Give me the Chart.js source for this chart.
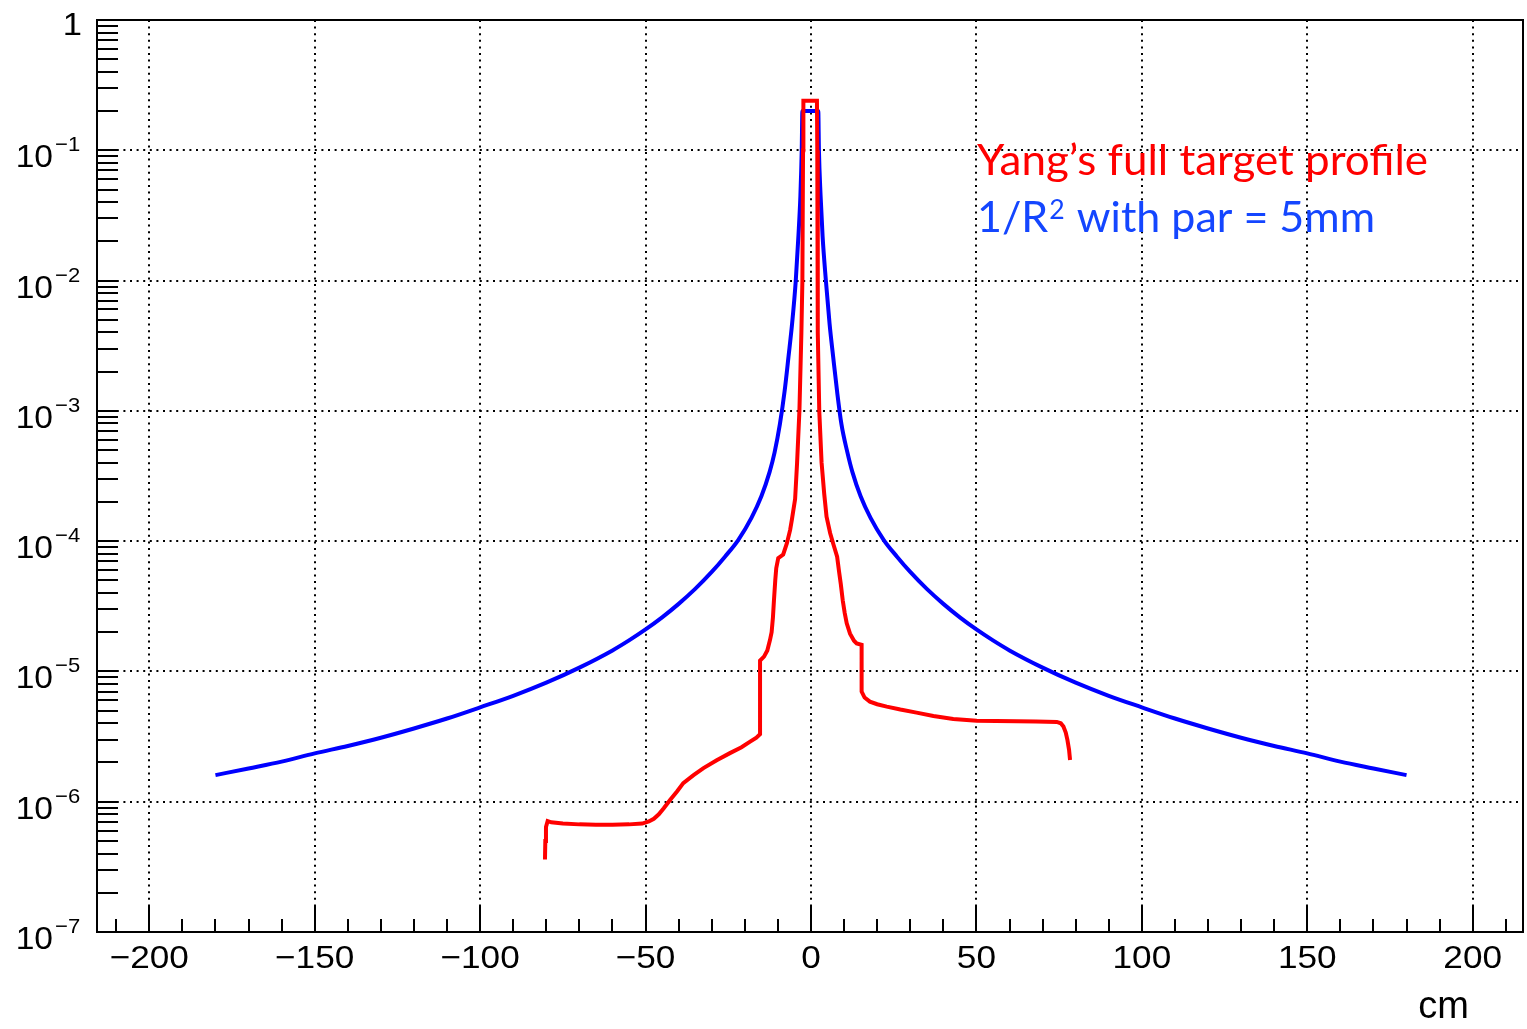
<!DOCTYPE html>
<html lang="en">
<head>
<meta charset="UTF-8">
<title>Target profile vs 1/R2</title>
<style>
  html, body { margin: 0; padding: 0; background: #fff; }
  #chart { display: block; }
</style>
</head>
<body>
<canvas id="chart" width="1527" height="1029"></canvas>
<script src="https://cdn.jsdelivr.net/npm/chart.js@4.4.1/dist/chart.umd.min.js"></script>
<script>
  // 1/R^2 curve
  const BLUE_X = [-180, -170, -160, -150, -140, -130, -120, -110, -100, -90, -80, -70, -60, -55, -50, -45, -40, -35, -30, -26, -22,
    -18, -15, -12.5, -11, -9.4, -8, -6.8, -5.7, -4.6, -3.8, -3.2, -2.8, -2.6,
    2.2, 2.4, 2.9, 3.5, 4.5, 5.6, 6.7, 7.9, 9.2, 11, 12.5, 15, 18, 22, 26, 30, 35, 40, 45, 50, 55,
    60, 70, 80, 90, 100, 110, 120, 130, 140, 150, 160, 170, 180];
  const BLUE_Y = [1.6e-6, 1.8e-6, 2.03e-6, 2.35e-6, 2.68e-6, 3.1e-6, 3.65e-6, 4.35e-6, 5.3e-6, 6.5e-6, 8.2e-6, 1.07e-5, 1.45e-5, 1.73e-5, 2.1e-5, 2.6e-5, 3.3e-5, 4.3e-5, 5.8e-5, 7.6e-5, 1.02e-4,
    1.51e-4, 2.21e-4, 3.4e-4, 4.8e-4, 7.9e-4, 1.4e-3, 2.6e-3, 4.7e-3, 1.0e-2, 2.2e-2, 4.5e-2, 0.1, 0.2,
    0.2, 0.1, 4.5e-2, 2.2e-2, 1.0e-2, 4.7e-3, 2.6e-3, 1.4e-3, 7.9e-4, 4.8e-4, 3.4e-4, 2.21e-4, 1.51e-4, 1.02e-4, 7.6e-5, 5.8e-5, 4.3e-5, 3.3e-5, 2.6e-5, 2.1e-5, 1.73e-5,
    1.45e-5, 1.07e-5, 8.2e-6, 6.5e-6, 5.3e-6, 4.35e-6, 3.65e-6, 3.1e-6, 2.68e-6, 2.35e-6, 2.03e-6, 1.8e-6, 1.6e-6];

  // Yang's full target profile
  const RED_X = [-80.4, -80.3, -80.1, -79.6, -78.5, -75, -70, -65, -60, -55, -51, -49, -47.5, -46, -44.5, -42.6, -40.5, -38.6, -35.5, -32.5,
    -28.5, -24.5, -21, -18.4, -16.5, -15.4, -15.4, -14.2, -13.2, -12.4, -11.9, -11.5, -11.2, -10.8, -10.5, -9.9, -8.4, -7.3, -6.3, -5.8,
    -4.8, -4.2, -3.5, -2.9, -2.6, -2.4, -2.3, 1.8, 1.9, 2.0, 2.1, 2.5, 3.2, 4.0, 4.7, 5.8, 6.7, 7.9, 8.5, 9.0,
    9.6, 10.2, 10.8, 11.8, 13.0, 13.8, 15.3, 15.3, 16.2, 17.8, 20, 22.9, 27, 31.9, 37, 43, 50.1, 56, 62.2, 68,
    74.3, 75.5, 76.3, 77, 77.5, 78, 78.3];
  const RED_Y = [3.6e-7, 5.0e-7, 6.4e-7, 7.1e-7, 6.95e-7, 6.8e-7, 6.7e-7, 6.65e-7, 6.65e-7, 6.7e-7, 6.8e-7, 7.05e-7, 7.4e-7, 8.0e-7, 8.9e-7, 1.03e-6, 1.2e-6, 1.39e-6, 1.6e-6, 1.81e-6,
    2.08e-6, 2.36e-6, 2.62e-6, 2.89e-6, 3.1e-6, 3.3e-6, 1.21e-5, 1.3e-5, 1.45e-5, 1.74e-5, 2.0e-5, 2.6e-5, 3.5e-5, 5.0e-5, 6.2e-5, 7.4e-5, 7.9e-5, 9.6e-5, 1.22e-4, 1.45e-4,
    2.1e-4, 4.0e-4, 1.0e-3, 4.0e-3, 1.0e-2, 0.1, 0.24, 0.24, 0.1, 1.0e-2, 4.0e-3, 1.0e-3, 4.0e-4, 2.3e-4, 1.54e-4, 1.15e-4, 9.6e-5, 7.6e-5, 5.8e-5, 4.7e-5,
    3.5e-5, 2.8e-5, 2.34e-5, 1.95e-5, 1.72e-5, 1.64e-5, 1.6e-5, 7.0e-6, 6.3e-6, 5.86e-6, 5.6e-6, 5.37e-6, 5.1e-6, 4.83e-6, 4.55e-6, 4.32e-6, 4.19e-6, 4.17e-6, 4.15e-6, 4.13e-6,
    4.1e-6, 4.0e-6, 3.77e-6, 3.4e-6, 2.98e-6, 2.5e-6, 2.09e-6];

  const X_MAJOR = [-200, -150, -100, -50, 0, 50, 100, 150, 200];
  const X_LABELS = ['\u2212200', '\u2212150', '\u2212100', '\u221250', '0', '50', '100', '150', '200'];
  const Y_DECADES = [1e-7, 1e-6, 1e-5, 1e-4, 1e-3, 1e-2, 1e-1, 1];
  const Y_EXPONENTS = ['\u22127', '\u22126', '\u22125', '\u22124', '\u22123', '\u22122', '\u22121', ''];

  const TICK_FONT = '"Liberation Sans", Arial, sans-serif';
  const TEXT_FONT = 'Lato, "Open Sans", sans-serif';

  // draws text a bit wider than the font, like the ROOT labels
  function wideText(ctx, txt, x, y, align, stretch) {
    const w = ctx.measureText(txt).width * stretch;
    let x0 = x;
    if (align === 'center') x0 = x - w / 2;
    if (align === 'right') x0 = x - w;
    ctx.save();
    ctx.textAlign = 'left';
    ctx.translate(x0, y);
    ctx.scale(stretch, 1);
    ctx.fillText(txt, 0, 0);
    ctx.restore();
  }

  const rootFrame = {
    id: 'rootFrame',
    afterDraw(chart) {
      const ctx = chart.ctx;
      const a = chart.chartArea;
      const xs = chart.scales.x;
      const ys = chart.scales.y;
      ctx.save();
      ctx.setLineDash([]);
      ctx.strokeStyle = '#000';
      ctx.lineWidth = 2;
      ctx.strokeRect(a.left, a.top, a.right - a.left, a.bottom - a.top);

      // y ticks: decades and 2..9
      ctx.beginPath();
      for (let i = 0; i < Y_DECADES.length - 1; i++) {
        for (let m = 1; m <= 9; m++) {
          const py = Math.round(ys.getPixelForValue(Y_DECADES[i] * m));
          ctx.moveTo(a.left, py);
          ctx.lineTo(a.left + 21, py);
        }
      }
      // x ticks every 10, longer every 50
      for (let v = -210; v <= 210; v += 10) {
        const px = Math.round(xs.getPixelForValue(v));
        const len = v % 50 === 0 ? 27 : 13;
        ctx.moveTo(px, a.bottom);
        ctx.lineTo(px, a.bottom - len);
      }
      ctx.stroke();

      // y labels
      ctx.fillStyle = '#000';
      ctx.textBaseline = 'alphabetic';
      Y_DECADES.forEach((v, i) => {
        const py = ys.getPixelForValue(v);
        const exp = Y_EXPONENTS[i];
        ctx.font = '32px ' + TICK_FONT;
        if (exp === '') {
          wideText(ctx, '1', 82, py + 15, 'right', 1.08);
          return;
        }
        wideText(ctx, '10', 53, py + 17, 'right', 1.05);
        ctx.font = '21px ' + TICK_FONT;
        wideText(ctx, exp, 55, py + 1, 'left', 1.05);
      });

      // x labels
      ctx.font = '32px ' + TICK_FONT;
      X_MAJOR.forEach((v, i) => {
        wideText(ctx, X_LABELS[i], xs.getPixelForValue(v), 968, 'center', 1.1);
      });

      // axis title
      ctx.font = '38px ' + TICK_FONT;
      wideText(ctx, 'cm', 1469, 1018, 'right', 1.0);

      // legend text
      ctx.textAlign = 'left';
      ctx.font = '42px ' + TEXT_FONT;
      const red = 'Yang\u2019s full target profile';
      let sx = 451 / ctx.measureText(red).width;
      ctx.save();
      ctx.translate(977, 175);
      ctx.scale(sx, 1);
      ctx.fillStyle = '#ff0000';
      ctx.fillText(red, 0, 0);
      ctx.restore();

      const p1 = '1/R', p2 = '2', p3 = ' with par = 5mm';
      ctx.font = '42px ' + TEXT_FONT;
      const w1 = ctx.measureText(p1).width;
      const w3 = ctx.measureText(p3).width;
      ctx.font = '26px ' + TEXT_FONT;
      const w2 = ctx.measureText(p2).width;
      sx = 398 / (w1 + w2 + 2 + w3);
      ctx.save();
      ctx.translate(977, 232);
      ctx.scale(sx, 1);
      ctx.fillStyle = '#1446ff';
      ctx.font = '42px ' + TEXT_FONT;
      ctx.fillText(p1, 0, 0);
      ctx.font = '26px ' + TEXT_FONT;
      ctx.fillText(p2, w1 + 1, -13);
      ctx.font = '42px ' + TEXT_FONT;
      ctx.fillText(p3, w1 + w2 + 2, 0);
      ctx.restore();

      ctx.restore();
    }
  };

  const toPoints = (xs, ys) => xs.map((x, i) => ({ x, y: ys[i] }));

  new Chart(document.getElementById('chart'), {
    type: 'scatter',
    data: {
      datasets: [
        {
          label: "Yang's full target profile",
          data: toPoints(RED_X, RED_Y),
          showLine: true,
          borderColor: '#ff0000',
          borderWidth: 4,
          pointRadius: 0,
          tension: 0
        },
        {
          label: '1/R2 with par = 5mm',
          data: toPoints(BLUE_X, BLUE_Y),
          showLine: true,
          borderColor: '#0000ff',
          borderWidth: 4,
          pointRadius: 0,
          cubicInterpolationMode: 'monotone'
        }
      ]
    },
    plugins: [rootFrame],
    options: {
      responsive: false,
      animation: false,
      devicePixelRatio: 1,
      layout: { padding: { top: 20, right: 4, left: 0, bottom: 0 } },
      plugins: { legend: { display: false }, tooltip: { enabled: false } },
      scales: {
        x: {
          type: 'linear',
          min: -215.8,
          max: 215.2,
          afterBuildTicks: (s) => { s.ticks = X_MAJOR.map(v => ({ value: v })); },
          afterFit: (s) => { s.height = 97; },
          ticks: { display: false },
          grid: { color: '#000', lineWidth: 2, drawTicks: false },
          border: { display: false, dash: [2, 4.6] }
        },
        y: {
          type: 'logarithmic',
          min: 1e-7,
          max: 1,
          afterBuildTicks: (s) => { s.ticks = Y_DECADES.map(v => ({ value: v })); },
          afterFit: (s) => { s.width = 97; },
          ticks: { display: false },
          grid: { color: '#000', lineWidth: 2, drawTicks: false },
          border: { display: false, dash: [2, 4.6] }
        }
      }
    }
  });
</script>
</body>
</html>
